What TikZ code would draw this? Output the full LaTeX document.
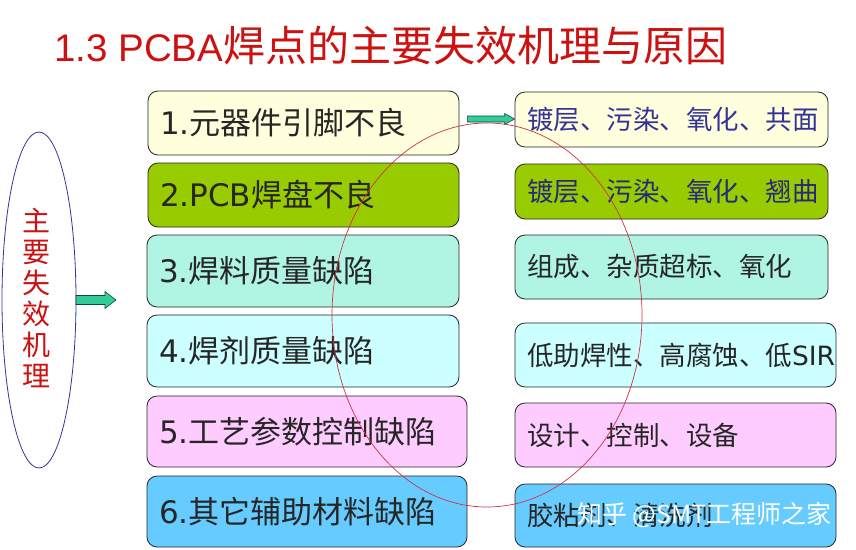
\documentclass[tikz,border=0pt]{standalone}
\usepackage{fontspec}
\usepackage{pdfrender}
\setmainfont{Liberation Sans}
\newfontfamily\cjk{Noto Sans CJK SC}
\newfontfamily\lat{DejaVu Sans}
\newfontfamily\ttl{Liberation Sans}
\usetikzlibrary{calc}
\definecolor{cyel}{HTML}{FFFFDD}
\definecolor{cgrn}{HTML}{99CC00}
\definecolor{caqu}{HTML}{B0F5E4}
\definecolor{ccya}{HTML}{CCFFFF}
\definecolor{cpnk}{HTML}{FFCCFF}
\definecolor{cblu}{HTML}{66CCFF}
\definecolor{ctitle}{HTML}{CC1111}
\definecolor{cblue}{HTML}{333399}
\definecolor{carrow}{HTML}{33CC99}
\definecolor{carrowd}{HTML}{0E4A3A}
\definecolor{cring}{HTML}{CC3344}
\tikzset{
  box/.style={draw=black!85, line width=0.8pt, rounded corners=10pt, inner sep=0pt, inner xsep=12pt, align=left, anchor=center},
  lbox/.style={box, font=\cjk\fontsize{31}{34}\selectfont, text=black!85},
  rbox/.style={box, font=\cjk\fontsize{26.5}{30}\selectfont, text=black!85},
  barrow/.style={fill=carrow, draw=carrowd, line width=0.6pt},
}
\newcommand\mkblockarrow[5]{% tail, tip, shaft half, head half, head length
  \draw[barrow] ($(#1)+(0,-#3)$) -- ($(#2)+(-#5,-#3)$) -- ($(#2)+(-#5,-#4)$) -- (#2)
    -- ($(#2)+(-#5,#4)$) -- ($(#2)+(-#5,#3)$) -- ($(#1)+(0,#3)$) -- cycle;}
\begin{document}
\begin{tikzpicture}[x=1pt,y=-1pt]
\useasboundingbox (0,0) rectangle (856,549);
\fill[white] (0,0) rectangle (856,549);
% title
\node[anchor=base west, inner sep=0pt, text=ctitle] (title) at (54,61)
  {{\ttl\fontsize{38.5}{42}\selectfont 1.3 PCBA}{\cjk\fontsize{42}{46}\selectfont 焊点的主要失效机理与原因}};
% left ellipse
\draw[draw=cblue, line width=0.8pt] (39,300) ellipse [x radius=37, y radius=168];
\node[inner sep=0pt, align=center, text=ctitle, font=\cjk\fontsize{28}{31}\selectfont] (ell) at (36,298)
  {主\\要\\失\\效\\机\\理};
\coordinate (la1) at (76,300);
\coordinate (la2) at (116,300);
% left boxes
\node[lbox, fill=cyel, minimum width=311pt, minimum height=64pt, text width=287pt] (b1) at (303.5,123) {{\lat 1.}元器件引脚不良};
\node[lbox, fill=cgrn, minimum width=311pt, minimum height=64pt, text width=287pt] (b2) at (303.5,195) {{\lat 2.PCB}焊盘不良};
\node[lbox, fill=caqu, minimum width=312pt, minimum height=72pt, text width=288pt] (b3) at (303,271) {{\lat 3.}焊料质量缺陷};
\node[lbox, fill=ccya, minimum width=312pt, minimum height=72pt, text width=288pt] (b4) at (303,351) {{\lat 4.}焊剂质量缺陷};
\node[lbox, fill=cpnk, minimum width=320pt, minimum height=71pt, text width=296pt] (b5) at (307,431.5) {{\lat 5.}工艺参数控制缺陷};
\node[lbox, fill=cblu, minimum width=320pt, minimum height=71pt, text width=296pt] (b6) at (307,511.5) {{\lat 6.}其它辅助材料缺陷};
% right boxes
\node[rbox, fill=cyel, minimum width=311pt, minimum height=55pt, text width=289pt, text=cblue] (r1) at (671.5,119.5) {镀层、污染、氧化、共面};
\node[rbox, fill=cgrn, minimum width=311pt, minimum height=55pt, text width=289pt, text=cblue!80!black] (r2) at (671.5,191.5) {镀层、污染、氧化、翘曲};
\node[rbox, fill=caqu, minimum width=311pt, minimum height=64pt, text width=289pt] (r3) at (671.5,267) {组成、杂质超标、氧化};
\node[rbox, fill=ccya, minimum width=319pt, minimum height=64pt, text width=297pt] (r4) at (675.5,355) {低助焊性、高腐蚀、低{\lat SIR}};
\node[rbox, fill=cpnk, minimum width=319pt, minimum height=64pt, text width=297pt] (r5) at (675.5,435) {设计、控制、设备};
\node[rbox, fill=cblu, minimum width=319pt, minimum height=63pt, text width=297pt] (r6) at (675.5,515.5) {胶粘剂、清洗剂};
% arrows
\mkblockarrow{la1}{la2}{4.5}{8.5}{11}
\coordinate (ta1) at ($(b1.east)+(8,-4)$);
\coordinate (ta2) at ($(r1.west)+(0,-0.5)$);
\mkblockarrow{ta1}{ta2}{3}{5.5}{10}
% red ring
\draw[cring, line width=0.7pt] (487,315) ellipse [x radius=155, y radius=192];
% watermark
\node[anchor=west, inner sep=0pt, text=white, font=\cjk\fontsize{25}{28}\selectfont] (wm) at (577,515)
  {\textpdfrender{TextRenderingMode=FillStroke, LineWidth=0.5, StrokeColor=black!50}{知乎 @SMT工程师之家}};
\end{tikzpicture}
\end{document}
